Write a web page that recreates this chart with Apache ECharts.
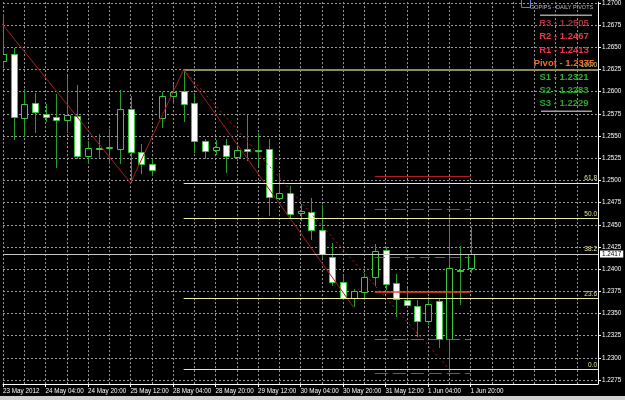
<!DOCTYPE html>
<html>
<head>
<meta charset="utf-8">
<script src="https://cdn.jsdelivr.net/npm/echarts@6/dist/echarts.min.js"></script>
<style>html,body{margin:0;padding:0;background:#000;}#c{width:625px;height:400px;}</style>
</head>
<body>
<div id="c"></div>
<script>
// ---- data (H4 bars, index 0 = 23 May 2012 12:00) ----
const opens  = [1.2635,1.2642,1.2570,1.2587,1.2575,1.2571,1.2568,1.2573,1.2527,1.2536,1.2537,1.2535,1.2580,1.2532,1.2519,1.2570,1.2595,1.2601,1.2587,1.2544,1.2534,1.2540,1.2526,1.2535,1.2534,1.2535,1.2480,1.2486,1.2463,1.2464,1.2444,1.2414,1.2385,1.2368,1.2374,1.2391,1.2421,1.2384,1.2365,1.2358,1.2342,1.2364,1.2321,1.2399,1.2401];
const highs  = [1.2688,1.2649,1.2603,1.2598,1.2586,1.2597,1.2618,1.2608,1.2544,1.2552,1.2558,1.2602,1.2595,1.2541,1.2524,1.2600,1.2609,1.2625,1.2598,1.2547,1.2545,1.2547,1.2536,1.2574,1.2554,1.2547,1.2508,1.2494,1.2473,1.2480,1.2472,1.2430,1.2393,1.2378,1.2396,1.2428,1.2425,1.2395,1.2379,1.2365,1.2369,1.2368,1.2460,1.2426,1.2447];
const lows   = [1.2628,1.2545,1.2549,1.2553,1.2566,1.2514,1.2553,1.2524,1.2519,1.2525,1.2519,1.2519,1.2497,1.2507,1.2505,1.2559,1.2586,1.2566,1.2531,1.2524,1.2529,1.2508,1.2522,1.2522,1.2516,1.2460,1.2479,1.2458,1.2454,1.2433,1.2413,1.2381,1.2365,1.2357,1.2365,1.2381,1.2376,1.2346,1.2357,1.2323,1.2337,1.2311,1.2287,1.2359,1.2396];
const closes = [1.2643,1.2571,1.2586,1.2577,1.2571,1.2568,1.2574,1.2528,1.2536,1.2535,1.2538,1.2581,1.2532,1.2518,1.2512,1.2595,1.2600,1.2586,1.2544,1.2533,1.2538,1.2527,1.2534,1.2533,1.2533,1.2481,1.2486,1.2462,1.2466,1.2444,1.2417,1.2385,1.2368,1.2375,1.2391,1.2420,1.2383,1.2366,1.2360,1.2341,1.2361,1.2321,1.2401,1.2398,1.2417];

const xTickBars   = [0,4,8,12,16,20,24,28,32,36,40,44];
const xTickLabels = ['23 May 2012','24 May 04:00','24 May 20:00','25 May 12:00','28 May 04:00','28 May 20:00','29 May 12:00','30 May 04:00','30 May 20:00','31 May 12:00','1 Jun 04:00','1 Jun 20:00'];
const priceTicks  = [1.2275,1.2300,1.2325,1.2350,1.2375,1.2400,1.2425,1.2450,1.2475,1.2500,1.2525,1.2550,1.2575,1.2600,1.2625,1.2650,1.2675,1.2700];

const zigzagBars   = [-1, 12, 17, 33];
const zigzagPrices = [1.2690, 1.2497, 1.2625, 1.2357];

const fibStartBar = 17, fibEndBar = 42;
const fibLevels = ['0.0','23.6','38.2','50.0','61.8','100.0'];
const fibPrices = [1.2287, 1.2367, 1.2417, 1.2457, 1.2497, 1.2625];

const pivotNames  = ['R3','R2','R1','Pivot','S1','S2','S3'];
const pivotValues = [1.2505, 1.2467, 1.2413, 1.2375, 1.2321, 1.2283, 1.2229];
const pivotStartBar = 35, pivotEndBar = 44;

const bidPrice = 1.2417;

// ---- styles ----
const FONT = '"Liberation Sans",Arial,sans-serif';
const AXFS = 6.3;
const WICK = '#2c9c2c', OUTLINE = '#3cc83c';
const GRID = '#9a9a9a';
const FIB = '#ecec9e';
const pivotText = ['#a8323e','#e23a4a','#e8344c','#f06a2a','#30b030','#2ca42c','#2ca42c'];
const pivotLine = [
  {color:'#b01e1e', type:'solid', width:1},
  {color:'#c03030', type:[13,5], width:1},
  {color:'#c83a30', type:[10,5], width:1},
  {color:'#f04a1c', type:'solid', width:1.5},
  {color:'#2e962e', type:[13,5], width:1},
  {color:'#2a842a', type:[13,5], width:1},
  {color:'#2a842a', type:[13,5], width:1}
];

const candleData = opens.map((o, i) => [i, o, closes[i], lows[i], highs[i]]);

function renderCandle(params, api) {
  const i = api.value(0), o = api.value(1), c = api.value(2), l = api.value(3), h = api.value(4);
  const pt = api.coord([i, h]), pb = api.coord([i, l]);
  const po = api.coord([i, o]), pc = api.coord([i, c]);
  const cx = Math.round(pt[0]) + 0.5;
  const bull = c > o;
  const yTop = Math.round(Math.min(po[1], pc[1])) + 0.5;
  const yBot = Math.round(Math.max(po[1], pc[1])) + 0.5;
  return {
    type: 'group',
    children: [
      {type: 'line', shape: {x1: cx, y1: Math.round(pt[1]), x2: cx, y2: Math.round(pb[1])},
       style: {stroke: WICK, lineWidth: 1}},
      {type: 'rect', shape: {x: cx - 3, y: yTop, width: 6, height: Math.max(yBot - yTop, 0)},
       style: {fill: bull ? '#000' : '#fff', stroke: OUTLINE, lineWidth: 1}}
    ]
  };
}

const fibMarks = fibPrices.map((p, k) => {
  const isTop = fibLevels[k] === '100.0';
  return [
    {coord: [fibStartBar, p],
     lineStyle: {color: isTop ? '#8c8c58' : FIB, width: isTop ? 2 : 1, type: 'solid'},
     label: {show: true, position: 'insideEndTop', formatter: fibLevels[k], color: isTop ? '#dcdc80' : '#e6e6a0',
             fontFamily: FONT, fontSize: 6.5, distance: [1, 1]}},
    {coord: [56, p]}
  ];
});
fibMarks.push([
  {coord: [fibStartBar, fibPrices[fibPrices.length - 1]], lineStyle: {color: '#a82222', width: 1, type: [2, 3]}, label: {show: false}},
  {coord: [fibEndBar, fibPrices[0]]}
]);

const pivotMarks = pivotValues.map((v, k) => [
  {coord: [pivotStartBar, v], lineStyle: pivotLine[k], label: {show: false}},
  {coord: [pivotEndBar, v]}
]);

const bidMark = [
  {coord: [0, bidPrice], lineStyle: {color: '#c8c8c8', width: 1, type: 'solid'},
   label: {show: true, position: 'end', formatter: bidPrice.toFixed(4), color: '#000', backgroundColor: '#fff',
           padding: [1, 2, 0, 2], fontFamily: FONT, fontSize: AXFS, distance: 2}},
  {coord: [56, bidPrice]}
];

const panelY = [23, 36.5, 50, 63.5, 77, 90, 103.5];
const panelGraphics = [
  {type: 'rect', shape: {x: 521.5, y: -1.5, width: 9, height: 9}, style: {fill: 'none', stroke: '#5f80d8', lineWidth: 1}},
  {type: 'text', x: 530, y: 7, style: {text: 'GOPIPS - DAILY PIVOTS', fill: '#b8b8c8', font: '5.5px ' + FONT,
     align: 'left', verticalAlign: 'middle', textAlign: 'left', textVerticalAlign: 'middle'}},
  {type: 'rect', shape: {x: 540, y: 14.5, width: 52, height: 1.5}, style: {fill: '#a0a0a0'}},
  {type: 'rect', shape: {x: 541, y: 110.5, width: 51, height: 1.5}, style: {fill: '#a0a0a0'}},
  {type: 'rect', shape: {x: 0, y: 396, width: 625, height: 4}, style: {fill: '#d0d0d0'}}
];
pivotNames.forEach((n, k) => {
  panelGraphics.push({type: 'text', x: 564, y: panelY[k], z: 10, style: {
    text: n + ' - ' + pivotValues[k].toFixed(4), fill: pivotText[k], font: 'bold 9.5px ' + FONT,
    align: 'center', verticalAlign: 'middle', textAlign: 'center', textVerticalAlign: 'middle'}});
});

const chart = echarts.init(document.getElementById('c'), null, {renderer: 'canvas'});
chart.setOption({
  backgroundColor: '#000',
  animation: false,
  grid: {left: 0, right: 27, top: 0, bottom: 16, containLabel: false},
  xAxis: [
    {type: 'value', min: 0, max: 56, interval: 2, position: 'bottom',
     axisLine: {show: true, onZero: false, lineStyle: {color: '#fff', width: 1}},
     axisTick: {show: false}, axisLabel: {show: false},
     splitLine: {show: true, lineStyle: {color: GRID, type: [2, 2], width: 1}}},
    {type: 'value', min: 0, max: 56, position: 'bottom',
     axisLine: {show: false, onZero: false},
     axisTick: {show: true, customValues: xTickBars, length: 3, lineStyle: {color: '#fff'}},
     axisLabel: {show: true, customValues: xTickBars, color: '#fff', fontFamily: FONT, fontSize: AXFS, margin: 4, align: 'left',
                 showMinLabel: true, showMaxLabel: true, hideOverlap: false,
                 formatter: v => xTickLabels[xTickBars.indexOf(v)] || ''},
     splitLine: {show: false}}
  ],
  yAxis: {
    type: 'value', position: 'right', min: 1.22705, max: 1.2701, scale: true,
    axisLine: {show: true, onZero: false, lineStyle: {color: '#fff', width: 1}},
    axisTick: {show: true, customValues: priceTicks, length: 3, lineStyle: {color: '#fff'}},
    axisLabel: {show: true, customValues: priceTicks, color: '#fff', fontFamily: FONT, fontSize: AXFS, margin: 4,
                showMinLabel: true, showMaxLabel: true, formatter: v => v.toFixed(4)},
    splitLine: {show: true, lineStyle: {color: GRID, type: [2, 2], width: 1}}
  },
  graphic: panelGraphics,
  series: [
    {type: 'custom', name: 'candles', renderItem: renderCandle, data: candleData, clip: true,
     encode: {x: 0, y: [1, 2, 3, 4]}, z: 2},
    {type: 'line', name: 'zigzag', data: zigzagBars.map((b, k) => [b, zigzagPrices[k]]), symbol: 'none', clip: true,
     lineStyle: {color: '#a51e1e', width: 1}, z: 3,
     markLine: {silent: true, symbol: 'none', precision: 4, animation: false,
                data: fibMarks.concat(pivotMarks).concat([bidMark])}}
  ]
});
</script>
</body>
</html>
